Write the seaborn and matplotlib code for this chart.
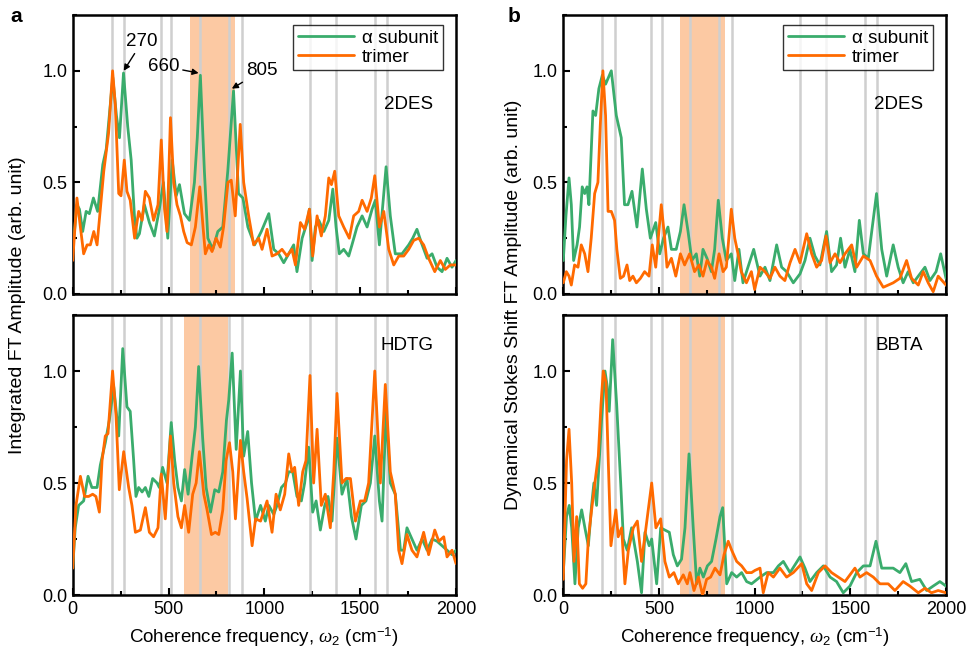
import numpy as np
import pandas as pd
import seaborn as sns
import matplotlib.pyplot as plt
from matplotlib.ticker import MultipleLocator

# Integrated FT amplitude, 2DES
int2des_alpha_x = [0, 22, 35, 52, 70, 87, 108, 130, 157, 175, 191, 209, 228, 244, 265, 287, 305, 322, 335, 348,
                   374, 400, 426, 452, 473, 496, 519, 540, 557, 583, 609, 635, 650, 666, 687, 705, 731, 757, 783, 809,
                   839, 865, 888, 914, 949, 984, 1023, 1049, 1075, 1101, 1127, 1153, 1170, 1197, 1223, 1235, 1249,
                   1266, 1284, 1310, 1336, 1357, 1374, 1391, 1414, 1440, 1457, 1483, 1510, 1536, 1562, 1579, 1600,
                   1635, 1657, 1683, 1718, 1753, 1774, 1796, 1819, 1849, 1875, 1901, 1927, 1953, 1979, 2000]
int2des_alpha_y = [0.2, 0.4, 0.38, 0.28, 0.37, 0.36, 0.43, 0.37, 0.58, 0.65, 0.8, 0.97, 0.8, 0.7, 0.99, 0.75, 0.6,
                   0.35, 0.25, 0.27, 0.4, 0.32, 0.26, 0.38, 0.5, 0.25, 0.6, 0.44, 0.49, 0.36, 0.33, 0.5, 0.7, 0.98,
                   0.55, 0.25, 0.2, 0.28, 0.3, 0.55, 0.91, 0.45, 0.43, 0.3, 0.22, 0.28, 0.36, 0.2, 0.18, 0.14, 0.18,
                   0.22, 0.1, 0.25, 0.32, 0.38, 0.15, 0.3, 0.33, 0.28, 0.33, 0.47, 0.3, 0.18, 0.2, 0.17, 0.22, 0.3,
                   0.35, 0.3, 0.38, 0.42, 0.22, 0.57, 0.35, 0.18, 0.18, 0.22, 0.25, 0.29, 0.23, 0.16, 0.18, 0.12,
                   0.1, 0.16, 0.12, 0.15]
int2des_trimer_x = [0, 22, 40, 57, 75, 92, 110, 127, 144, 162, 187, 208, 222, 240, 252, 269, 283, 300, 323, 344,
                    362, 379, 400, 422, 445, 462, 479, 492, 510, 527, 544, 562, 579, 597, 619, 640, 663, 680, 692,
                    710, 727, 748, 770, 787, 810, 827, 848, 874, 892, 918, 944, 970, 988, 1014, 1040, 1066, 1092,
                    1118, 1144, 1162, 1188, 1210, 1235, 1252, 1275, 1297, 1318, 1336, 1350, 1367, 1388, 1414, 1443,
                    1466, 1492, 1510, 1536, 1558, 1576, 1600, 1623, 1649, 1675, 1701, 1727, 1753, 1779, 1805, 1831,
                    1857, 1889, 1918, 1944, 1970, 2000]
int2des_trimer_y = [0.15, 0.43, 0.3, 0.18, 0.22, 0.22, 0.28, 0.22, 0.38, 0.55, 0.72, 1.0, 0.85, 0.45, 0.44, 0.6,
                    0.46, 0.42, 0.25, 0.37, 0.33, 0.46, 0.43, 0.33, 0.4, 0.69, 0.38, 0.28, 0.79, 0.5, 0.4, 0.35,
                    0.28, 0.23, 0.22, 0.3, 0.48, 0.3, 0.18, 0.22, 0.19, 0.25, 0.21, 0.3, 0.5, 0.51, 0.35, 0.76, 0.5,
                    0.35, 0.22, 0.25, 0.2, 0.29, 0.17, 0.18, 0.2, 0.17, 0.2, 0.13, 0.32, 0.29, 0.38, 0.17, 0.35,
                    0.26, 0.35, 0.52, 0.49, 0.55, 0.35, 0.3, 0.25, 0.35, 0.37, 0.42, 0.37, 0.43, 0.53, 0.3, 0.37,
                    0.2, 0.13, 0.17, 0.17, 0.2, 0.24, 0.25, 0.22, 0.16, 0.1, 0.15, 0.11, 0.13, 0.13]

# Integrated FT amplitude, HDTG
inthdtg_alpha_x = [0, 13, 31, 57, 80, 100, 127, 144, 170, 191, 214, 240, 261, 283, 300, 318, 330, 344, 362, 379,
                   397, 417, 440, 452, 469, 492, 514, 532, 549, 567, 584, 602, 623, 640, 657, 678, 696, 719, 741,
                   762, 783, 802, 814, 832, 853, 875, 892, 913, 933, 954, 980, 1005, 1023, 1049, 1066, 1089, 1110,
                   1127, 1148, 1170, 1193, 1210, 1231, 1252, 1270, 1292, 1315, 1332, 1353, 1379, 1405, 1431, 1454,
                   1478, 1506, 1530, 1553, 1576, 1600, 1614, 1635, 1657, 1683, 1710, 1727, 1744, 1770, 1796, 1823,
                   1849, 1875, 1901, 1927, 1953, 1979, 2000]
inthdtg_alpha_y = [0.12, 0.3, 0.4, 0.42, 0.53, 0.48, 0.48, 0.58, 0.68, 0.78, 0.93, 0.71, 1.1, 0.84, 0.82, 0.6,
                   0.44, 0.48, 0.46, 0.48, 0.44, 0.52, 0.5, 0.48, 0.57, 0.5, 0.77, 0.6, 0.48, 0.42, 0.56, 0.45,
                   0.62, 0.75, 1.02, 0.7, 0.48, 0.37, 0.47, 0.46, 0.55, 0.78, 0.87, 1.08, 0.65, 1.0, 0.62, 0.73,
                   0.5, 0.33, 0.4, 0.33, 0.4, 0.36, 0.4, 0.48, 0.5, 0.55, 0.55, 0.44, 0.42, 0.5, 0.66, 0.37, 0.42,
                   0.29, 0.4, 0.44, 0.33, 0.7, 0.45, 0.52, 0.35, 0.25, 0.4, 0.42, 0.5, 0.71, 0.42, 0.33, 0.82, 0.5,
                   0.45, 0.2, 0.2, 0.3, 0.25, 0.2, 0.25, 0.2, 0.25, 0.24, 0.22, 0.2, 0.18, 0.2]
inthdtg_trimer_x = [0, 17, 40, 62, 83, 104, 121, 139, 153, 170, 184, 208, 226, 243, 266, 292, 309, 327, 353, 379,
                    400, 422, 445, 462, 483, 510, 527, 549, 567, 584, 605, 626, 644, 661, 684, 701, 724, 744, 762,
                    783, 800, 818, 835, 849, 875, 892, 910, 936, 954, 980, 1014, 1040, 1061, 1083, 1106, 1127, 1144,
                    1158, 1179, 1200, 1217, 1238, 1257, 1275, 1297, 1318, 1344, 1362, 1379, 1405, 1426, 1449, 1475,
                    1501, 1523, 1544, 1576, 1605, 1631, 1657, 1683, 1701, 1718, 1744, 1770, 1796, 1831, 1857, 1889,
                    1910, 1936, 1953, 1979, 2000]
inthdtg_trimer_y = [0.12, 0.4, 0.53, 0.44, 0.44, 0.45, 0.44, 0.37, 0.6, 0.71, 0.72, 1.0, 0.8, 0.47, 0.64, 0.48,
                    0.4, 0.28, 0.29, 0.39, 0.28, 0.26, 0.3, 0.54, 0.34, 0.71, 0.5, 0.35, 0.3, 0.4, 0.28, 0.45, 0.5,
                    0.64, 0.45, 0.38, 0.27, 0.28, 0.27, 0.38, 0.6, 0.68, 0.55, 0.34, 0.69, 0.55, 0.43, 0.22, 0.34,
                    0.33, 0.42, 0.28, 0.45, 0.38, 0.45, 0.63, 0.55, 0.57, 0.4, 0.55, 0.6, 0.98, 0.5, 0.74, 0.4,
                    0.45, 0.3, 0.55, 0.9, 0.5, 0.52, 0.52, 0.33, 0.42, 0.42, 0.5, 1.0, 0.5, 0.94, 0.55, 0.45, 0.2,
                    0.14, 0.27, 0.2, 0.17, 0.28, 0.18, 0.29, 0.24, 0.26, 0.17, 0.2, 0.14]

# Dynamical Stokes shift FT amplitude, 2DES
dss2des_alpha_x = [0, 14, 30, 42, 54, 72, 85, 99, 112, 124, 134, 155, 169, 186, 204, 221, 251, 277, 303, 320, 338,
                   359, 385, 413, 434, 455, 483, 504, 524, 547, 565, 590, 612, 631, 652, 672, 695, 713, 730, 751,
                   774, 791, 810, 831, 852, 878, 896, 918, 939, 965, 995, 1028, 1054, 1080, 1115, 1141, 1167, 1202,
                   1237, 1263, 1289, 1315, 1341, 1376, 1402, 1428, 1449, 1472, 1498, 1524, 1547, 1568, 1594, 1637,
                   1664, 1690, 1724, 1750, 1776, 1802, 1829, 1855, 1890, 1916, 1948, 1972, 2000]
dss2des_alpha_y = [0.15, 0.35, 0.52, 0.4, 0.15, 0.22, 0.3, 0.48, 0.45, 0.48, 0.4, 0.82, 0.8, 0.92, 0.98, 0.94, 1.0,
                   0.8, 0.7, 0.4, 0.4, 0.46, 0.3, 0.56, 0.38, 0.25, 0.32, 0.18, 0.25, 0.3, 0.2, 0.2, 0.28, 0.4,
                   0.28, 0.15, 0.18, 0.08, 0.2, 0.16, 0.1, 0.2, 0.42, 0.25, 0.15, 0.18, 0.06, 0.2, 0.05, 0.12, 0.2,
                   0.08, 0.12, 0.06, 0.22, 0.12, 0.1, 0.05, 0.09, 0.15, 0.25, 0.17, 0.13, 0.28, 0.1, 0.13, 0.25,
                   0.12, 0.2, 0.1, 0.33, 0.18, 0.16, 0.45, 0.2, 0.08, 0.22, 0.12, 0.05, 0.1, 0.05, 0.08, 0.12, 0.06,
                   0.1, 0.18, 0.07]
dss2des_trimer_x = [0, 16, 30, 42, 59, 77, 94, 112, 129, 146, 164, 181, 193, 207, 221, 234, 251, 268, 280, 298, 315,
                    333, 347, 364, 382, 403, 425, 448, 465, 483, 512, 530, 542, 565, 588, 612, 634, 660, 686, 709,
                    730, 751, 774, 791, 814, 835, 852, 878, 896, 913, 930, 957, 983, 1000, 1028, 1054, 1080, 1106,
                    1132, 1158, 1185, 1211, 1237, 1272, 1298, 1324, 1350, 1373, 1394, 1420, 1446, 1472, 1507, 1533,
                    1568, 1603, 1637, 1672, 1698, 1724, 1759, 1794, 1820, 1855, 1881, 1907, 1933, 1959, 2000]
dss2des_trimer_y = [0.05, 0.1, 0.08, 0.04, 0.13, 0.12, 0.22, 0.18, 0.1, 0.25, 0.45, 0.5, 0.75, 1.0, 0.8, 0.37,
                    0.37, 0.33, 0.2, 0.07, 0.08, 0.13, 0.06, 0.08, 0.05, 0.07, 0.1, 0.08, 0.22, 0.12, 0.4, 0.25,
                    0.12, 0.16, 0.08, 0.18, 0.13, 0.18, 0.1, 0.13, 0.08, 0.15, 0.12, 0.07, 0.18, 0.1, 0.12, 0.38,
                    0.25, 0.18, 0.1, 0.05, 0.1, 0.02, 0.12, 0.1, 0.07, 0.12, 0.08, 0.06, 0.14, 0.2, 0.14, 0.27,
                    0.18, 0.12, 0.15, 0.26, 0.14, 0.18, 0.14, 0.18, 0.22, 0.12, 0.17, 0.15, 0.08, 0.03, 0.04, 0.05,
                    0.07, 0.15, 0.07, 0.04, 0.1, 0.05, 0.01, 0.08, 0.04]

# Dynamical Stokes shift FT amplitude, BBTA
dssbbta_alpha_x = [0, 17, 31, 44, 61, 78, 96, 113, 131, 148, 160, 174, 188, 200, 218, 230, 240, 258, 279, 300,
                   314, 334, 357, 387, 409, 427, 449, 462, 488, 509, 531, 554, 575, 596, 618, 636, 657, 679, 697,
                   714, 732, 753, 775, 798, 819, 833, 854, 880, 906, 932, 958, 984, 1028, 1063, 1098, 1124, 1150,
                   1185, 1237, 1263, 1289, 1324, 1359, 1394, 1428, 1463, 1498, 1533, 1568, 1603, 1634, 1664, 1690,
                   1724, 1759, 1790, 1820, 1863, 1899, 1933, 1968, 2000]
dssbbta_alpha_y = [0.1, 0.35, 0.4, 0.3, 0.05, 0.3, 0.38, 0.3, 0.22, 0.4, 0.5, 0.4, 0.6, 0.78, 1.0, 0.93, 0.82,
                   1.14, 0.85, 0.5, 0.25, 0.2, 0.3, 0.15, 0.01, 0.28, 0.22, 0.25, 0.05, 0.3, 0.29, 0.28, 0.18,
                   0.13, 0.16, 0.3, 0.63, 0.3, 0.05, 0.12, 0.08, 0.13, 0.15, 0.25, 0.35, 0.39, 0.05, 0.1, 0.08,
                   0.1, 0.06, 0.05, 0.08, 0.1, 0.1, 0.13, 0.15, 0.1, 0.17, 0.12, 0.06, 0.1, 0.13, 0.08, 0.06, 0.01,
                   0.04, 0.1, 0.13, 0.13, 0.24, 0.12, 0.12, 0.12, 0.1, 0.14, 0.06, 0.07, 0.02, 0.04, 0.06, 0.04]
dssbbta_trimer_x = [0, 17, 30, 44, 56, 70, 84, 101, 118, 131, 148, 165, 183, 197, 209, 223, 235, 249, 261, 275,
                    287, 305, 322, 340, 366, 387, 409, 432, 462, 484, 509, 531, 554, 578, 601, 627, 648, 662, 683,
                    706, 728, 749, 770, 793, 819, 840, 862, 880, 906, 932, 958, 984, 1002, 1028, 1045, 1071, 1098,
                    1132, 1167, 1202, 1246, 1272, 1298, 1333, 1368, 1402, 1437, 1472, 1524, 1550, 1585, 1620, 1655,
                    1698, 1733, 1776, 1811, 1855, 1890, 1924, 1959, 2000]
dssbbta_trimer_y = [0.07, 0.6, 0.74, 0.5, 0.15, 0.35, 0.05, 0.03, 0.05, 0.25, 0.38, 0.5, 0.62, 0.85, 1.0, 0.95,
                    0.6, 0.22, 0.3, 0.38, 0.26, 0.3, 0.05, 0.2, 0.3, 0.33, 0.15, 0.3, 0.5, 0.3, 0.34, 0.15, 0.08,
                    0.1, 0.05, 0.09, 0.05, 0.1, 0.02, 0.08, 0.0, 0.07, 0.08, 0.12, 0.09, 0.18, 0.24, 0.2, 0.15,
                    0.13, 0.1, 0.1, 0.11, 0.12, 0.01, 0.1, 0.08, 0.12, 0.08, 0.1, 0.14, 0.05, 0.02, 0.1, 0.13, 0.1,
                    0.08, 0.06, 0.12, 0.08, 0.1, 0.08, 0.05, 0.05, 0.02, 0.06, 0.04, 0.01, 0.03, 0.01, 0.02, 0.01]

# vibrational modes marked with grey lines
mode_lines = [203, 270, 460, 515, 663, 815, 882, 1238, 1375, 1578, 1638]
# shaded region per panel (a top, a bottom, b top, b bottom)
spans = [(610, 847), (583, 808), (610, 847), (610, 847)]
panel_text = ['2DES', 'HDTG', '2DES', 'BBTA']

green = '#3aac6c'
orange = '#ff6a00'

sns.set_style('ticks')
plt.rcParams['font.family'] = ['Liberation Sans', 'DejaVu Sans']
plt.rcParams['mathtext.fontset'] = 'custom'
plt.rcParams['mathtext.it'] = 'Liberation Serif:italic'
plt.rcParams['mathtext.rm'] = 'Liberation Sans'
for key in ['text.color', 'axes.labelcolor', 'xtick.color', 'ytick.color', 'axes.edgecolor']:
    plt.rcParams[key] = 'black'
plt.rcParams['xtick.direction'] = 'in'
plt.rcParams['ytick.direction'] = 'in'

fig = plt.figure(figsize=(9.67, 6.53), dpi=100)
axes = [fig.add_axes([0.0752, 0.5498, 0.3964, 0.4272]),
        fig.add_axes([0.0752, 0.0888, 0.3964, 0.4288]),
        fig.add_axes([0.5825, 0.5498, 0.3958, 0.4272]),
        fig.add_axes([0.5825, 0.0888, 0.3958, 0.4288])]

series = [(int2des_alpha_x, int2des_alpha_y, int2des_trimer_x, int2des_trimer_y),
          (inthdtg_alpha_x, inthdtg_alpha_y, inthdtg_trimer_x, inthdtg_trimer_y),
          (dss2des_alpha_x, dss2des_alpha_y, dss2des_trimer_x, dss2des_trimer_y),
          (dssbbta_alpha_x, dssbbta_alpha_y, dssbbta_trimer_x, dssbbta_trimer_y)]

for i, ax in enumerate(axes):
    ax.axvspan(spans[i][0], spans[i][1], color='#fcc9a3', lw=0, zorder=0)
    for m in mode_lines:
        ax.axvline(m, color='#cfcfcf', lw=1.8, zorder=1)
    ax_x, ax_y, tr_x, tr_y = series[i]
    sns.lineplot(x=ax_x, y=ax_y, color=green, lw=2.0, ax=ax, sort=False, estimator=None,
                 label='\u03b1 subunit', zorder=3)
    sns.lineplot(x=tr_x, y=tr_y, color=orange, lw=2.0, ax=ax, sort=False, estimator=None,
                 label='trimer', zorder=4)
    ax.set_xlim(0, 2000)
    ax.set_ylim(0, 1.25)
    ax.xaxis.set_major_locator(MultipleLocator(500))
    ax.xaxis.set_minor_locator(MultipleLocator(250))
    ax.yaxis.set_major_locator(MultipleLocator(0.5))
    ax.yaxis.set_minor_locator(MultipleLocator(0.25))
    ax.tick_params(which='major', length=5, width=1.5, labelsize=13, top=False, right=False,
                   bottom=True, left=True, pad=4)
    ax.tick_params(which='minor', length=3, width=1.5, top=False, right=False, bottom=True, left=True)
    ax.set_yticks([0, 0.5, 1.0])
    ax.set_yticklabels(['0.0', '0.5', '1.0'])
    for s in ax.spines.values():
        s.set_linewidth(1.8)
        s.set_color('black')
    ax.text(0.94, 0.68 if i in (0, 2) else 0.89, panel_text[i], transform=ax.transAxes,
            ha='right', va='center', fontsize=13.5)
    if i in (0, 2):
        ax.set_xticklabels([])
        leg = ax.legend(loc='upper right', bbox_to_anchor=(0.965, 0.965), fontsize=13.5, frameon=True,
                        fancybox=False, edgecolor='black', handlelength=3.0, borderpad=0.25,
                        labelspacing=0.1, handletextpad=0.4, borderaxespad=0)
        leg.get_frame().set_linewidth(1.0)
    else:
        ax.get_legend().remove()
        ax.set_xlabel(r'Coherence frequency, $\mathit{\omega_2}$ (cm$^{-1}$)', fontsize=13.5, labelpad=6)
    ax.set_ylabel('')

# peak labels on panel a
a0 = axes[0]
arrow = dict(arrowstyle='-|>', color='black', lw=1.0, mutation_scale=9, shrinkA=0, shrinkB=0)
a0.annotate('270', xy=(266, 1.0), xytext=(362, 1.13), fontsize=13.5, ha='center', va='center', arrowprops=arrow)
a0.annotate('660', xy=(657, 0.99), xytext=(475, 1.02), fontsize=13.5, ha='center', va='center', arrowprops=arrow)
a0.annotate('805', xy=(830, 0.92), xytext=(985, 1.0), fontsize=13.5, ha='center', va='center', arrowprops=arrow)

fig.text(18 / 967, 1 - 305 / 653, 'Integrated FT Amplitude (arb. unit)', rotation=90,
         ha='center', va='center', fontsize=14)
fig.text(513 / 967, 1 - 305 / 653, 'Dynamical Stokes Shift FT Amplitude (arb. unit)', rotation=90,
         ha='center', va='center', fontsize=14)
fig.text(10 / 967, 1 - 17 / 653, 'a', fontsize=15, fontweight='bold', va='center')
fig.text(508 / 967, 1 - 17 / 653, 'b', fontsize=15, fontweight='bold', va='center')

fig.savefig('out.png', dpi=100)
